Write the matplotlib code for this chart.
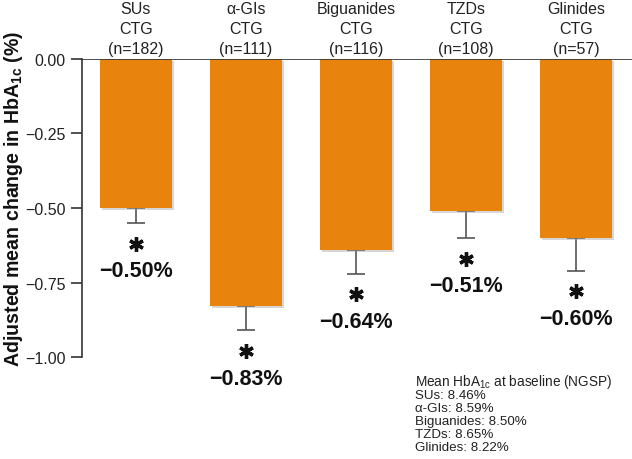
import matplotlib
matplotlib.use('Agg')
import matplotlib.pyplot as plt
import matplotlib.patheffects as pe
from matplotlib.transforms import offset_copy
import numpy as np

plt.rcParams['font.family'] = ['Liberation Sans', 'DejaVu Sans']
plt.rcParams['mathtext.fontset'] = 'custom'
plt.rcParams['mathtext.rm'] = 'Liberation Sans'
plt.rcParams['mathtext.bf'] = 'Liberation Sans:bold'
plt.rcParams['mathtext.it'] = 'Liberation Sans:italic'

# data
categories = ['SUs', 'α-GIs', 'Biguanides', 'TZDs', 'Glinides']
n_patients = [182, 111, 116, 108, 57]
mean_change = [-0.50, -0.83, -0.64, -0.51, -0.60]
se_lower = [0.05, 0.08, 0.08, 0.09, 0.11]
baseline_hba1c = [8.46, 8.59, 8.50, 8.65, 8.22]
y_ticks = [0.00, -0.25, -0.50, -0.75, -1.00]

BAR_COLOR = '#E8830E'
AXIS_COLOR = '#333333'

fig = plt.figure(figsize=(6.32, 4.60), dpi=100)
ax = fig.add_axes([0.1297, 0.2217, 0.8703, 0.6479])

x = np.arange(len(categories))
bars = ax.bar(x, mean_change, width=0.655, color=BAR_COLOR, zorder=2)
for b in bars:
    b.set_path_effects([pe.SimplePatchShadow(offset=(1.5, -1.5), shadow_rgbFace='#999999', alpha=0.4),
                        pe.Normal()])

# only the lower half of the error bar is shown
ax.errorbar(x, mean_change, yerr=[se_lower, [0] * len(x)], fmt='none',
            ecolor='#555555', elinewidth=1.2, capsize=6.5, capthick=1.2, zorder=1)

lows = np.array(mean_change) - np.array(se_lower)
star_tr = offset_copy(ax.transData, fig=fig, y=-15, units='points')
ax.plot(x, lows, linestyle='none', marker=(6, 2, 0), markersize=10.5,
        markeredgewidth=2.4, color='#111111', transform=star_tr, clip_on=False, zorder=3)
for xi, lo, v in zip(x, lows, mean_change):
    ax.annotate(f'{v:.2f}%'.replace('-', '\u2212'), xy=(xi, lo), xytext=(0, -34.5),
                textcoords='offset points', ha='center', va='center',
                fontsize=15.5, fontweight='bold', color='#111111', annotation_clip=False)

ax.axhline(0, color=AXIS_COLOR, lw=1.2, zorder=3)

ax.set_xlim(-0.49, 4.51)
ax.set_ylim(-1.0, 0.0)
ax.set_yticks(y_ticks)
ax.set_yticklabels([f'{t:.2f}'.replace('-', '\u2212') for t in y_ticks])

ax.set_xticks(x)
ax.set_xticklabels([f'{c}\nCTG\n(n={n})' for c, n in zip(categories, n_patients)],
                   fontsize=11.5, color='#222222', linespacing=1.42)
ax.xaxis.tick_top()
ax.tick_params(axis='x', length=0, pad=2)
ax.tick_params(axis='y', direction='out', length=8, width=1.2, color=AXIS_COLOR,
               labelsize=11.5, labelcolor='#222222', pad=4)

for s in ['top', 'right', 'bottom']:
    ax.spines[s].set_visible(False)
ax.spines['left'].set_color(AXIS_COLOR)
ax.spines['left'].set_linewidth(1.2)

ax.set_ylabel('Adjusted mean change in HbA$_{\\mathbf{1c}}$ (%)', fontsize=14.1,
              fontweight='bold', color='#111111')
ax.yaxis.set_label_coords(-0.104, 0.534)

fig.text(0.657, 0.189, 'Mean HbA$_{\\mathregular{1c}}$ at baseline (NGSP)',
         fontsize=9.8, va='top', ha='left', color='#222222')
base_lines = '\n'.join(f'{c}: {v:.2f}%' for c, v in zip(categories, baseline_hba1c))
fig.text(0.657, 0.152, base_lines, fontsize=9.6, va='top', ha='left',
         color='#222222', linespacing=1.12)

fig.savefig('out.png', dpi=100)
